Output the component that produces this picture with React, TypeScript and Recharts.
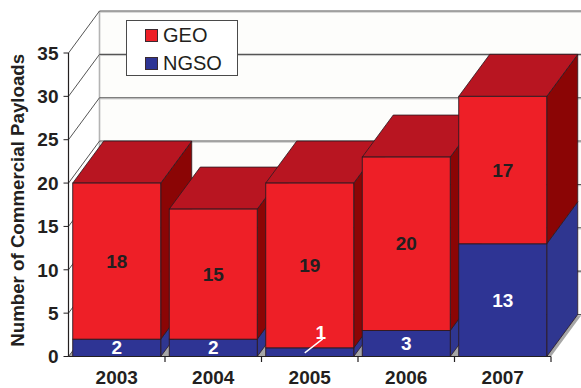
import React from 'react';
import { BarChart, Bar, XAxis, YAxis, CartesianGrid, Legend, ReferenceArea } from 'recharts';

const years = ['2003', '2004', '2005', '2006', '2007'];
const geo = [18, 15, 19, 20, 17];
const ngso = [2, 2, 1, 3, 13];
const yTicks = [0, 5, 10, 15, 20, 25, 30, 35];

const DX = 31;
const DY = -42;
const INK = '#231f20';
const FONT = '"Liberation Sans", Arial, sans-serif';

// one stack per year, so each year paints over the one before it
const rows = years.map((year, i) => ({
  year,
  [`ngso${i}`]: ngso[i],
  [`geo${i}`]: geo[i],
}));

const colors = {
  geo: { front: '#ee1f27', top: '#b81521', side: '#8b0505' },
  ngso: { front: '#2e3494', top: '#2e3494', side: '#2f3690' },
};

const BOLD = { fontFamily: FONT, fontWeight: 'bold', fontSize: 19 };

const Box = (props: any) => {
  const { x, y, width, height, kind, value, index, only } = props;
  if (index !== only || !height) return null;
  const c = colors[kind as 'geo' | 'ngso'];
  const r = x + width;
  const b = y + height;
  const cx = x + width / 2;
  const cy = y + height / 2;
  const stroke = '#2b1a22';
  // a 1-payload segment is too thin, its label sits above with a leader line
  const below = kind === 'geo' ? ngso[only] : 0;
  const isThin = value === 1;
  return (
    <g>
      <polygon points={`${r},${y} ${r + DX},${y + DY} ${r + DX},${b + DY} ${r},${b}`} fill={c.side} stroke={stroke} strokeWidth={0.8} />
      {kind === 'geo' && (
        <polygon points={`${x},${y} ${x + DX},${y + DY} ${r + DX},${y + DY} ${r},${y}`} fill={c.top} stroke={stroke} strokeWidth={0.8} />
      )}
      <rect x={x} y={y} width={width} height={height} fill={c.front} stroke={stroke} strokeWidth={0.9} />
      {!isThin && (
        <text x={cx} y={cy} textAnchor="middle" dominantBaseline="central" {...BOLD} fill={kind === 'geo' ? INK : '#fff'}>
          {value}
        </text>
      )}
      {below === 1 && (
        <g>
          <line x1={cx - 5} y1={b + 5} x2={cx + 13} y2={b - 9} stroke="#fff" strokeWidth={1.4} />
          <text x={cx + 11} y={b - 15} textAnchor="middle" dominantBaseline="central" {...BOLD} fill="#fff">
            {below}
          </text>
        </g>
      )}
    </g>
  );
};

const Walls = (props: any) => {
  const { x, y, width, height } = props;
  const b = y + height;
  const r = x + width;
  return (
    <g>
      <polygon points={`${x},${y} ${x + DX},${y + DY} ${x + DX},${b + DY} ${x},${b}`} fill="#ffffff" />
      <rect x={x + DX} y={y + DY} width={width} height={height} fill="#fdfdfb" />
      <polygon points={`${x},${b} ${x + DX},${b + DY} ${r + DX},${b + DY} ${r},${b}`} fill="#a6a6a6" />
      <line x1={x + DX} y1={y + DY} x2={x + DX} y2={b + DY} stroke="#b4b4b4" strokeWidth={1.6} />
    </g>
  );
};

const GridLine = (props: any) => {
  const { x1, x2, y1 } = props;
  return (
    <g>
      <line x1={x1 + DX} y1={y1 + DY + 1.2} x2={x2 + DX} y2={y1 + DY + 1.2} stroke="#c8c8c8" strokeWidth={1} />
      <line x1={x1} y1={y1} x2={x1 + DX} y2={y1 + DY} stroke="#555" strokeWidth={1} />
      <line x1={x1 + DX} y1={y1 + DY} x2={x2 + DX} y2={y1 + DY} stroke="#555" strokeWidth={1.1} />
    </g>
  );
};

const YearTick = (props: any) => {
  const { x, payload } = props;
  const half = payload.offset ?? 48.25;
  return (
    <g>
      <line x1={x + half} y1={356.5} x2={x + half} y2={362} stroke={INK} strokeWidth={1.2} />
      <text x={x} y={384} textAnchor="middle" fontFamily={FONT} fontWeight="bold" fontSize={19} fill={INK}>
        {payload.value}
      </text>
    </g>
  );
};

const LegendBox = () => (
  <div style={{ boxSizing: 'border-box', width: 112, height: 56, background: '#fff', border: '1px solid #4a4a4a', fontFamily: FONT, fontSize: 20, color: INK }}>
    {[['GEO', colors.geo.front], ['NGSO', colors.ngso.front]].map(([name, fill]) => (
      <div key={name} style={{ display: 'flex', alignItems: 'center', height: 28, paddingLeft: 18 }}>
        <span style={{ boxSizing: 'border-box', width: 13, height: 13, background: fill, border: '1px solid #3a2a30', marginRight: 5 }} />
        {name}
      </div>
    ))}
  </div>
);

export default function App() {
  return (
    <div style={{ position: 'absolute', left: 0, top: 0, width: 581, height: 388, background: '#fff' }}>
      <BarChart
        width={581}
        height={388}
        data={rows}
        margin={{ top: 53, right: 30, bottom: 0, left: 0 }}
        barCategoryGap="4.4%"
      >
        <ReferenceArea y1={0} y2={35} shape={<Walls />} ifOverflow="visible" zIndex={-200} />
        <CartesianGrid vertical={false} horizontal={(p: any) => <GridLine {...p} />} />
        <XAxis
          dataKey="year"
          height={31.5}
          axisLine={{ stroke: INK, strokeWidth: 1.2 }}
          tickLine={false}
          tick={<YearTick />}
          interval={0}
        />
        <YAxis
          width={68.5}
          domain={[0, 35]}
          ticks={yTicks}
          interval={0}
          tickSize={5}
          tickMargin={5}
          axisLine={{ stroke: INK, strokeWidth: 1.2 }}
          tickLine={{ stroke: INK }}
          tick={{ fontFamily: FONT, fontWeight: 'bold', fontSize: 19, fill: INK }}
          label={{
            value: 'Number of Commercial Payloads',
            angle: -90,
            position: 'insideLeft',
            offset: 17,
            dy: 142,
            style: { fontFamily: FONT, fontWeight: 'bold', fontSize: 18.7, fill: INK },
          }}
        />
        <Legend
          verticalAlign="middle"
          content={<LegendBox />}
          wrapperStyle={{ position: 'absolute', left: 126, top: 20, width: 112, height: 56 }}
        />
        {years.map((_, i) => [
          <Bar key={`n${i}`} dataKey={`ngso${i}`} stackId="a" legendType="none" isAnimationActive={false}
            shape={(p: any) => <Box {...p} kind="ngso" value={ngso[i]} only={i} />} />,
          <Bar key={`g${i}`} dataKey={`geo${i}`} stackId="a" legendType="none" isAnimationActive={false}
            shape={(p: any) => <Box {...p} kind="geo" value={geo[i]} only={i} />} />,
        ])}
      </BarChart>
    </div>
  );
}
